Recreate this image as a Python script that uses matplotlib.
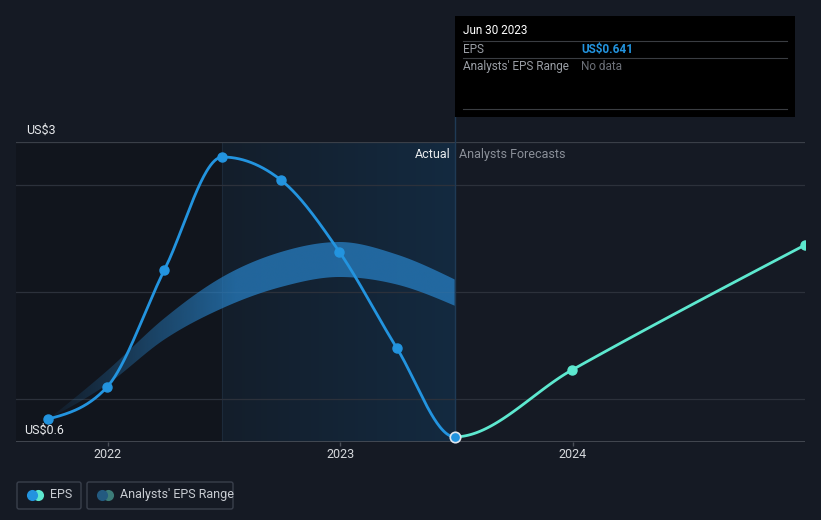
"""
EPS history vs analyst forecasts, dark theme.
"""

import numpy as np
import pandas as pd
import matplotlib
matplotlib.use('Agg')
import matplotlib.pyplot as plt
import matplotlib.dates as mdates
from matplotlib.patches import FancyBboxPatch, Rectangle

plt.rcParams['font.family'] = ['Roboto', 'DejaVu Sans']

# ---- data ----
eps_dates = ['2021-09-30', '2021-12-31', '2022-03-31', '2022-06-30',
             '2022-09-30', '2022-12-31', '2023-03-31', '2023-06-30']
eps_vals = [0.784, 1.04, 1.976, 2.88, 2.696, 2.12, 1.352, 0.641]

fc_dates = ['2023-06-30', '2023-12-31', '2024-12-31']
fc_vals = [0.641, 1.176, 2.176]

band_upper = [0.784, 1.17, 1.59, 1.92, 2.12, 2.20, 2.10, 1.90]
band_lower = [0.784, 1.06, 1.42, 1.67, 1.84, 1.92, 1.86, 1.69]

grid_vals = [0.944, 1.8, 2.656]
year_ticks = ['2022-01-01', '2023-01-01', '2024-01-01']
year_labels = ['2022', '2023', '2024']

BG = '#151a24'
BLUE = '#2394df'
TEAL = '#5de8cf'


def monotone(x, y, n=60):
    # monotone cubic (like d3 curveMonotoneX), for drawing only
    x = np.asarray(x, float)
    y = np.asarray(y, float)
    h = np.diff(x)
    s = np.diff(y) / h
    m = np.zeros(len(x))
    for i in range(1, len(x) - 1):
        p = (s[i-1] * h[i] + s[i] * h[i-1]) / (h[i-1] + h[i])
        m[i] = (np.sign(s[i-1]) + np.sign(s[i])) * min(abs(s[i-1]), abs(s[i]), 0.5 * abs(p))
    if len(x) > 2:
        m[0] = (3 * s[0] - m[1]) / 2
        m[-1] = (3 * s[-1] - m[-2]) / 2
    else:
        m[0] = m[-1] = s[0]
    xs, ys = [], []
    for i in range(len(x) - 1):
        t = np.linspace(0, 1, n)
        h00 = 2*t**3 - 3*t**2 + 1
        h10 = t**3 - 2*t**2 + t
        h01 = -2*t**3 + 3*t**2
        h11 = t**3 - t**2
        xs.append(x[i] + t * h[i])
        ys.append(h00*y[i] + h10*h[i]*m[i] + h01*y[i+1] + h11*h[i]*m[i+1])
    return np.concatenate(xs), np.concatenate(ys)


def main():
    ex = mdates.date2num(pd.to_datetime(eps_dates))
    fx = mdates.date2num(pd.to_datetime(fc_dates))
    tx = mdates.date2num(pd.to_datetime(year_ticks))

    x0 = mdates.date2num(pd.Timestamp('2021-08-10'))
    x1 = mdates.date2num(pd.Timestamp('2024-12-31'))

    fig = plt.figure(figsize=(8.21, 5.2), dpi=100, facecolor=BG)
    ax = fig.add_axes([16/821, 78/520, 789/821, 300/520])
    ax.set_facecolor(BG)
    ax.set_xlim(x0, x1)
    ax.set_ylim(0.6, 3.0)

    # darker past region and highlighted last year
    ax.axvspan(x0, ex[3], color='#11151d', zorder=0, lw=0)
    grad = np.linspace(0, 1, 256)[None, :]
    c0 = np.array([20, 30, 43]) / 255
    c1 = np.array([19, 42, 64]) / 255
    img = c0[None, None, :] * (1 - grad[..., None]) + c1[None, None, :] * grad[..., None]
    ax.imshow(img, extent=[ex[3], ex[-1], 0.6, 3.0], aspect='auto', zorder=0.5)
    ax.axvline(ex[3], color='#1c2a3a', lw=0.8, zorder=0.6)

    # grid
    for g in grid_vals:
        ax.axhline(g, color='#2c313b', lw=0.9, zorder=1)
    ax.axhline(3.0, color='#3a3f48', lw=0.9, zorder=1)
    ax.axhline(0.6, color='#4a4f58', lw=1.2, zorder=1)

    # analyst band with left fade
    bx, bu = monotone(ex, band_upper)
    _, bl = monotone(ex, band_lower)
    poly = ax.fill_between(bx, bl, bu, color='none', lw=0, zorder=2)
    frac = (bx - bx[0]) / (ex[3] - bx[0])
    alpha = np.clip(0.05 + 0.62 * frac, 0, 0.72)
    band_img = np.zeros((2, len(bx), 4))
    band_img[..., :3] = np.array([40, 130, 200]) / 255
    band_img[..., 3] = alpha[None, :]
    im = ax.imshow(band_img, extent=[bx[0], bx[-1], 0.6, 3.0], aspect='auto', zorder=2,
                   interpolation='bilinear')
    im.set_clip_path(poly.get_paths()[0], transform=ax.transData)

    # EPS + forecast drawn as one smooth curve, coloured past / future
    all_x = np.concatenate([ex, fx[1:]])
    all_y = np.concatenate([eps_vals, fc_vals[1:]])
    cx, cy = monotone(all_x, all_y)
    past = cx <= ex[-1]
    fut = cx >= ex[-1]
    ax.plot(cx[past], cy[past], color=BLUE, lw=2.0, zorder=4, solid_capstyle='round')
    ax.plot(cx[fut], cy[fut], color=TEAL, lw=2.0, zorder=4)
    ax.plot(ex[:-1], eps_vals[:-1], 'o', color=BLUE, ms=6.5, zorder=5)
    ax.plot(fx[1:], fc_vals[1:], 'o', color=TEAL, ms=6.5, zorder=5)
    ax.plot(ex[-1], eps_vals[-1], 'o', color=BLUE, ms=7.5, mec='#dfe6ee', mew=1.2, zorder=6, clip_on=False)

    # now line
    ax.axvline(ex[-1], ymin=0, ymax=1 + 25/300, color='#1f3a55', lw=1.0, zorder=3, clip_on=False)

    ax.text(ex[-1] - 6, 2.9, 'Actual', color='#e8eaed', fontsize=9, ha='right', va='center', zorder=7)
    ax.text(ex[-1] + 6, 2.9, 'Analysts Forecasts', color='#8a8f98', fontsize=9, ha='left', va='center', zorder=7)

    # axes style
    for sp in ax.spines.values():
        sp.set_visible(False)
    ax.set_yticks([])
    ax.set_xticks(tx)
    ax.set_xticklabels(year_labels)
    ax.tick_params(axis='x', colors='#4a4f58', length=3, width=1, labelcolor='#d5d8dc',
                   labelsize=9, pad=1.5)

    # overlay in pixel units
    ov = fig.add_axes([0, 0, 1, 1], facecolor='none')
    ov.set_xlim(0, 821)
    ov.set_ylim(520, 0)
    ov.axis('off')

    ov.text(26, 130, 'US$3', color='#e8eaed', fontsize=9, va='center', ha='left')
    ov.text(24, 430, 'US$0.6', color='#e8eaed', fontsize=9, va='center', ha='left')

    # tooltip
    ov.add_patch(Rectangle((455, 16), 340, 101, facecolor='#000000', edgecolor='none'))
    ov.text(463, 31, 'Jun 30 2023', color='#ffffff', fontsize=8.5, va='center')
    for yy in (41, 58, 109):
        ov.plot([463, 787], [yy, yy], color='#3a3d42', lw=0.8)
    ov.text(463, 49.5, 'EPS', color='#9a9ea5', fontsize=8.5, va='center')
    ov.text(581, 49.5, 'US$0.641', color=BLUE, fontsize=8.5, va='center', fontweight='bold')
    ov.text(463, 66.5, "Analysts' EPS Range", color='#9a9ea5', fontsize=8.5, va='center')
    ov.text(581, 66.5, 'No data', color='#6c7078', fontsize=8.5, va='center')

    # legend
    ov.add_patch(FancyBboxPatch((17, 482), 64, 27, boxstyle='round,pad=0,rounding_size=2',
                                facecolor='none', edgecolor='#3a404c', lw=1))
    ov.add_patch(FancyBboxPatch((87, 482), 146, 27, boxstyle='round,pad=0,rounding_size=2',
                                facecolor='none', edgecolor='#3a404c', lw=1))
    ov.plot([38], [494.5], 'o', color=TEAL, ms=8, mew=0)
    ov.plot([32], [494.5], 'o', color=BLUE, ms=8, mew=0)
    ov.text(50, 494.5, 'EPS', color='#c8ccd2', fontsize=9, va='center')
    ov.plot([108], [494.5], 'o', color='#3c7c78', ms=8, mew=0)
    ov.plot([102], [494.5], 'o', color='#235a80', ms=8, mew=0)
    ov.text(120, 494.5, "Analysts' EPS Range", color='#c8ccd2', fontsize=9, va='center')

    fig.savefig('out.png', dpi=100, facecolor=BG)


if __name__ == "__main__":
    main()
